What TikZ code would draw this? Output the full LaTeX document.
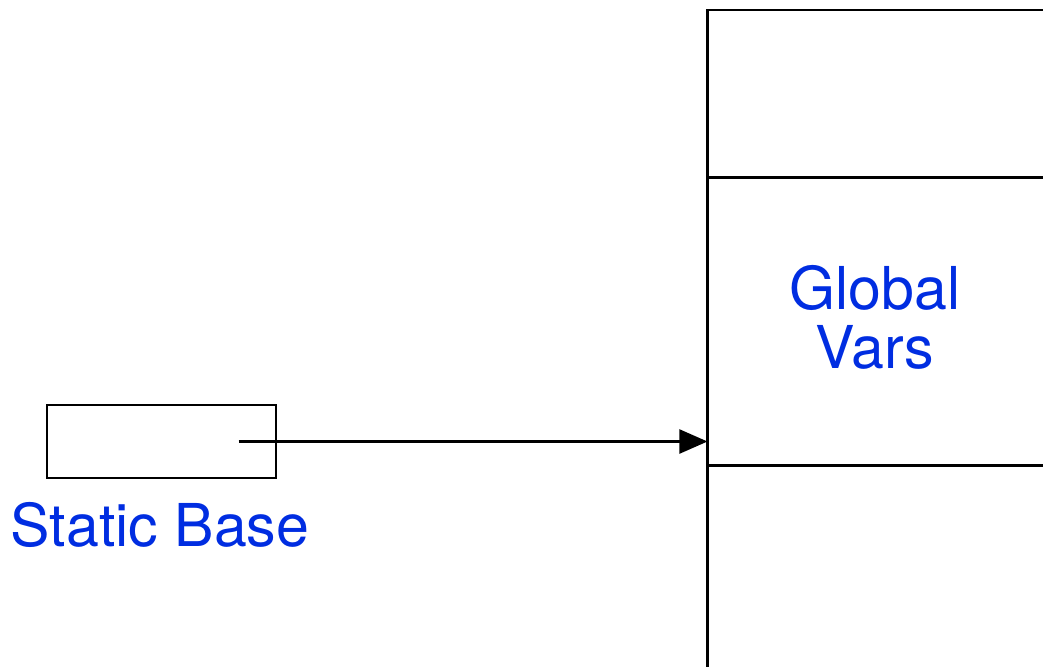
\documentclass[tikz,border=0pt]{standalone}
\usepackage{fontspec}
\setmainfont{TeX Gyre Heros}
\usetikzlibrary{arrows.meta}
\definecolor{lblblue}{RGB}{0,45,225}

\begin{document}
\begin{tikzpicture}[x=0.01cm,y=-0.01cm,line width=0.8pt,line cap=butt,
  lbl/.style={text=lblblue,font=\fontsize{16.8pt}{16.7pt}\selectfont,align=center,inner sep=0pt}]
\useasboundingbox (0,0) rectangle (1043,666);
\clip (0,0) rectangle (1043,666);
% memory column, running off the page
\draw (1060,10) -- (707.5,10) -- (707.5,690);
\draw (707.5,177.5) -- (1060,177.5);
\draw (707.5,465.5) -- (1060,465.5);
\node[lbl] (gvars) at (875,317) {Global\\Vars};
\coordinate (gvars entry) at (707.5,441.5);
% static base register
\node[draw,minimum width=2.29cm,minimum height=0.73cm,inner sep=0pt] (sbase) at (161.5,441.5) {};
\coordinate (sbase ptr) at (238.5,441.5);
\node[lbl,anchor=base] (sbase label) at (160,546.7) {Static Base};
\draw[-{Triangle[length=8pt,width=6.8pt]}] (sbase ptr) -- (gvars entry);
\end{tikzpicture}
\end{document}
